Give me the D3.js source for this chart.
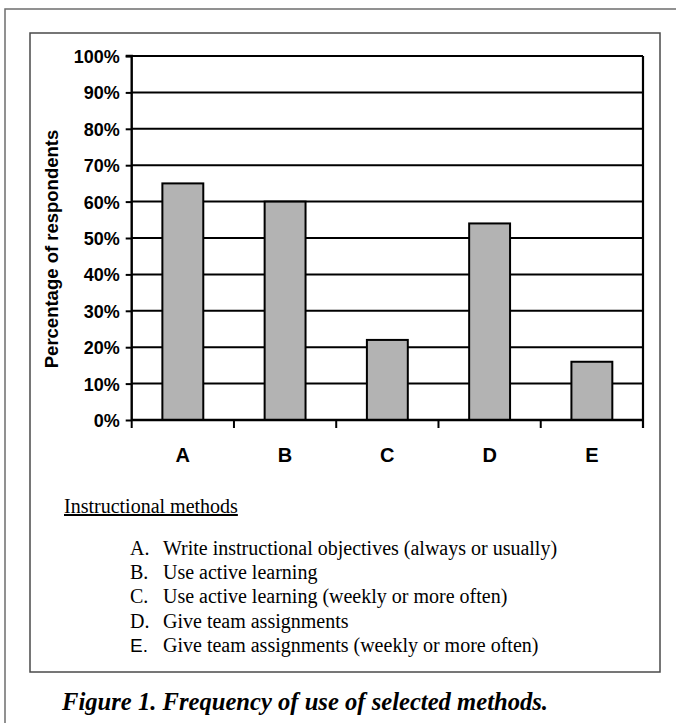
<!DOCTYPE html>
<html>
<head>
<meta charset="utf-8">
<script src="https://cdn.jsdelivr.net/npm/d3@7"></script>
<style>
  html, body { margin: 0; padding: 0; background: #fff; }
  svg { display: block; }
</style>
</head>
<body>
<div id="chart"></div>
<script>
// ---- data ----
const categories = ["A", "B", "C", "D", "E"];
const values = [65, 60, 22, 54, 16];
const yTicks = [0, 10, 20, 30, 40, 50, 60, 70, 80, 90, 100];
const yTickLabels = ["0%", "10%", "20%", "30%", "40%", "50%", "60%", "70%", "80%", "90%", "100%"];
const yTitle = "Percentage of respondents";
const legendTitle = "Instructional methods";
const legendKeys = ["A.", "B.", "C.", "D.", "E."];
const legendItems = [
  "Write instructional objectives (always or usually)",
  "Use active learning",
  "Use active learning (weekly or more often)",
  "Give team assignments",
  "Give team assignments (weekly or more often)"
];
const caption = "Figure 1. Frequency of use of selected methods.";

// ---- layout ----
const W = 676, H = 723;
const plot = { left: 131.7, right: 643, top: 56, bottom: 420 };
const sans = "'Liberation Sans', Arial, sans-serif";
const serif = "'Liberation Serif', 'Times New Roman', serif";

const svg = d3.select("#chart").append("svg")
  .attr("width", W).attr("height", H);

// outer frame
svg.append("path")
  .attr("d", `M5,${H + 5} L5,9 L${W + 5},9`)
  .attr("fill", "none").attr("stroke", "#6e6e6e").attr("stroke-width", 1.5);

// inner box
svg.append("rect")
  .attr("x", 30).attr("y", 33).attr("width", 630).attr("height", 639)
  .attr("fill", "none").attr("stroke", "#4a4a4a").attr("stroke-width", 1.5);

const x = d3.scaleBand().domain(categories)
  .range([plot.left, plot.right]).paddingInner(0.6).paddingOuter(0.3);
const y = d3.scaleLinear().domain([0, 100]).range([plot.bottom, plot.top]);

// gridlines
svg.append("g").selectAll("line").data(yTicks.filter(d => d > 0)).join("line")
  .attr("x1", plot.left).attr("x2", plot.right)
  .attr("y1", d => y(d)).attr("y2", d => y(d))
  .attr("stroke", "#000").attr("stroke-width", 2);

// right border
svg.append("line")
  .attr("x1", plot.right).attr("x2", plot.right)
  .attr("y1", y(100)).attr("y2", plot.bottom + 8)
  .attr("stroke", "#000").attr("stroke-width", 2.2);

// bars
svg.append("g").selectAll("rect").data(categories).join("rect")
  .attr("x", d => x(d))
  .attr("y", (d, i) => y(values[i]))
  .attr("width", x.bandwidth())
  .attr("height", (d, i) => y(0) - y(values[i]))
  .attr("fill", "#b3b3b3").attr("stroke", "#000").attr("stroke-width", 2);

// y axis
const yAxis = d3.axisLeft(y).tickValues(yTicks)
  .tickFormat((d, i) => yTickLabels[i]).tickSize(6).tickPadding(6);
const gy = svg.append("g").attr("transform", `translate(${plot.left},0)`).call(yAxis);
gy.select(".domain").attr("stroke", "#000").attr("stroke-width", 2.4)
  .attr("d", `M-6,${y(100)}H0V${plot.bottom}`);
gy.selectAll(".tick line").attr("stroke", "#000").attr("stroke-width", 2);
gy.selectAll(".tick text")
  .attr("font-family", sans).attr("font-weight", "bold").attr("font-size", 18)
  .attr("fill", "#000").attr("dy", "0.36em");

// x axis baseline and tick marks at band boundaries
svg.append("line")
  .attr("x1", plot.left).attr("x2", plot.right)
  .attr("y1", plot.bottom).attr("y2", plot.bottom)
  .attr("stroke", "#000").attr("stroke-width", 2.4);
const step = x.step();
const bounds = d3.range(categories.length + 1).map(i => plot.left + i * step);
svg.append("g").selectAll("line").data(bounds).join("line")
  .attr("x1", d => d).attr("x2", d => d)
  .attr("y1", plot.bottom).attr("y2", plot.bottom + 8)
  .attr("stroke", "#000").attr("stroke-width", 2);

// x labels
svg.append("g").selectAll("text").data(categories).join("text")
  .attr("x", d => x(d) + x.bandwidth() / 2)
  .attr("y", 462)
  .attr("text-anchor", "middle")
  .attr("font-family", sans).attr("font-weight", "bold").attr("font-size", 20)
  .text(d => d);

// y title
svg.append("text")
  .attr("transform", `translate(58,249) rotate(-90)`)
  .attr("text-anchor", "middle")
  .attr("font-family", sans).attr("font-weight", "bold").attr("font-size", 18.5)
  .text(yTitle);

// legend title
svg.append("text")
  .attr("x", 64).attr("y", 513)
  .attr("font-family", serif).attr("font-size", 20)
  .attr("text-decoration", "underline")
  .text(legendTitle);

// legend items
const lg = svg.append("g");
legendItems.forEach((t, i) => {
  const yy = 555 + i * 24.2;
  lg.append("text").attr("x", 130).attr("y", yy)
    .attr("font-family", i === 4 ? sans : serif).attr("font-size", i === 4 ? 19 : 20)
    .text(legendKeys[i]);
  lg.append("text").attr("x", 163).attr("y", yy)
    .attr("font-family", serif).attr("font-size", 20)
    .text(t);
});

// caption
svg.append("text")
  .attr("x", 62).attr("y", 710)
  .attr("font-family", serif).attr("font-style", "italic").attr("font-weight", "bold")
  .attr("font-size", 26)
  .attr("textLength", 486).attr("lengthAdjust", "spacingAndGlyphs")
  .text(caption);
</script>
</body>
</html>
